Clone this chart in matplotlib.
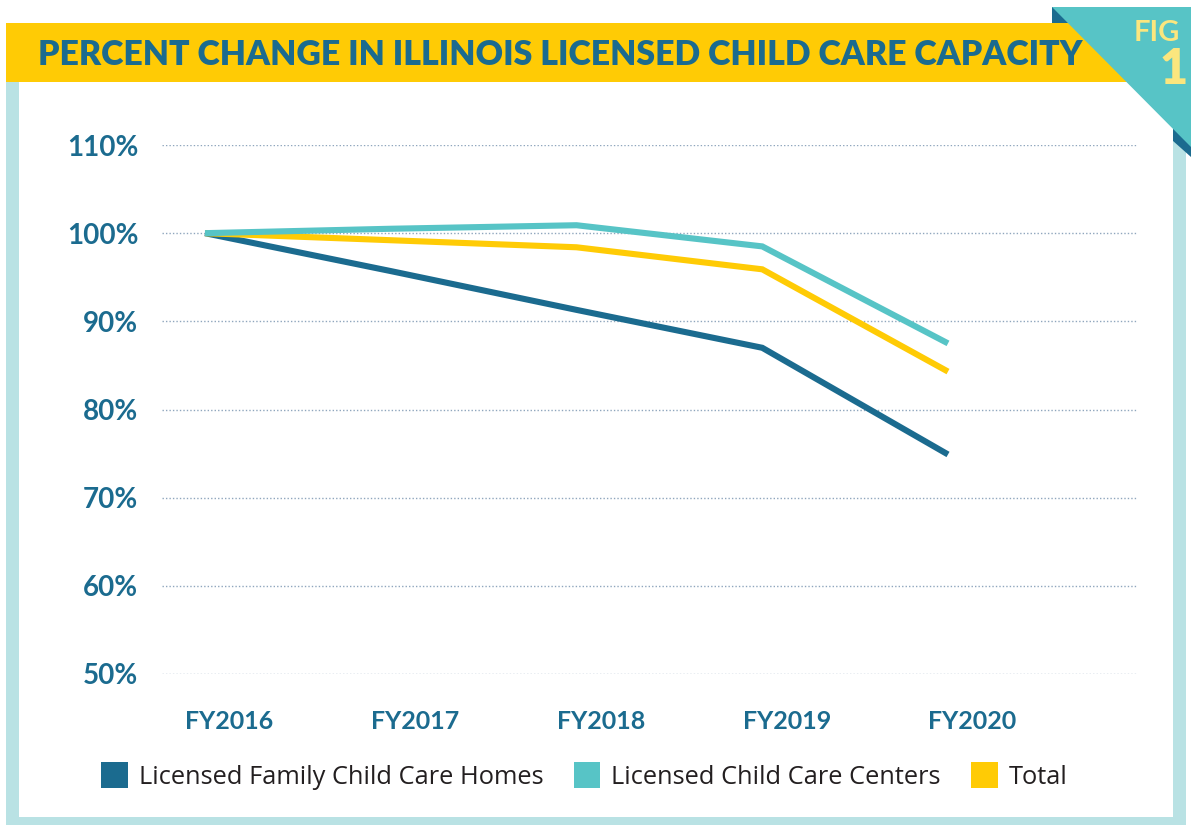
import matplotlib
matplotlib.use("Agg")
import matplotlib.pyplot as plt
import matplotlib.transforms as mtransforms
from matplotlib.patches import Rectangle, Polygon, Patch

# data (percent of FY2016 capacity)
years = ["FY2016", "FY2017", "FY2018", "FY2019", "FY2020"]
family_homes = [100.0, 95.7, 91.3, 87.0, 74.9]
care_centers = [100.0, 100.5, 100.9, 98.5, 87.5]
total = [100.0, 99.2, 98.4, 95.9, 84.3]
y_ticks = [50, 60, 70, 80, 90, 100, 110]

DARK = "#1b6b8f"
TEAL = "#57c4c6"
YELLOW = "#ffcb05"
FRAME = "#b9e2e4"
GRID = "#8fa6bd"
TEXT = "#231f20"

W, H = 1191, 825
fig = plt.figure(figsize=(W / 100, H / 100), dpi=100)
fig.patch.set_facecolor("white")

# pixel coords, origin top-left
pix = mtransforms.Affine2D().scale(1 / W, -1 / H).translate(0, 1) + fig.transFigure

def add(p, z):
    p.set_transform(pix)
    p.set_zorder(z)
    fig.patches.append(p)

# frame and header decorations
add(Rectangle((6, 82), 1180, 743, facecolor=FRAME, edgecolor="none"), -5)
add(Polygon([(1052, 7), (1191, 7), (1191, 157), (1052, 33)], closed=True,
            facecolor=DARK, edgecolor="none"), -4)
add(Rectangle((19, 82), 1154, 735, facecolor="white", edgecolor="none"), -3)
add(Rectangle((6, 23), 1180, 59, facecolor=YELLOW, edgecolor="none"), -2)
add(Polygon([(1052, 7), (1191, 7), (1191, 147)], closed=True,
            facecolor=TEAL, edgecolor="none"), -1)

fig.text(38 / W, 1 - 55 / H, "PERCENT CHANGE IN ILLINOIS LICENSED CHILD CARE CAPACITY",
         family="Lato", weight="heavy", fontsize=24.4, color=DARK,
         ha="left", va="center", zorder=5)
fig.text(1157 / W, 1 - 33 / H, "FIG", family="Lato", weight="bold", fontsize=21,
         color="#fbe67e", ha="center", va="center", zorder=5)
fig.text(1174 / W, 1 - 70 / H, "1", family="Lato", weight="heavy", fontsize=35,
         color="#fbe67e", ha="center", va="center", zorder=5)

# chart
ax = fig.add_axes([162 / W, 1 - 674 / H, 975 / W, 529 / H])
ax.set_facecolor("none")
x = list(range(len(years)))
lw = 4.4
ax.plot(x, family_homes, color=DARK, lw=lw, solid_capstyle="butt", solid_joinstyle="miter", zorder=3)
ax.plot(x, total, color=YELLOW, lw=lw, solid_capstyle="butt", solid_joinstyle="miter", zorder=4)
ax.plot(x, care_centers, color=TEAL, lw=lw, solid_capstyle="butt", solid_joinstyle="miter", zorder=5)

ax.set_ylim(50, 110)
ax.set_xlim(-0.2315, 5.0175)
ax.set_yticks(y_ticks)
ax.set_yticklabels([f"{v}%" for v in y_ticks])
ax.set_xticks(x)
ax.set_xticklabels(years)
ax.grid(axis="y", color=GRID, lw=1.0, linestyle=(0, (1, 1.5)))
ax.grid(axis="x", visible=False)
for s in ax.spines.values():
    s.set_visible(False)
ax.tick_params(axis="both", length=0)
ax.tick_params(axis="y", pad=17)
ax.tick_params(axis="x", pad=26)
for lab in ax.get_yticklabels():
    lab.set_fontfamily("Lato")
    lab.set_fontweight("bold")
    lab.set_fontsize(20)
    lab.set_color(DARK)
shift = mtransforms.ScaledTranslation(24.5 / 100, 0, fig.dpi_scale_trans)
for lab in ax.get_xticklabels():
    lab.set_fontfamily("Lato")
    lab.set_fontweight("bold")
    lab.set_fontsize(18)
    lab.set_color(DARK)
    lab.set_transform(lab.get_transform() + shift)

handles = [Patch(facecolor=DARK), Patch(facecolor=TEAL), Patch(facecolor=YELLOW)]
labels = ["Licensed Family Child Care Homes", "Licensed Child Care Centers", "Total"]
leg = fig.legend(handles, labels, loc="center", bbox_to_anchor=(584.5 / W, 1 - 776 / H),
                 ncol=3, frameon=False, handlelength=1.04, handleheight=1.2,
                 handletextpad=0.44, columnspacing=1.2, borderpad=0, borderaxespad=0,
                 prop={"family": "Open Sans", "weight": "normal", "size": 18.3})
for t in leg.get_texts():
    t.set_color(TEXT)

fig.savefig("out.png", dpi=100)
